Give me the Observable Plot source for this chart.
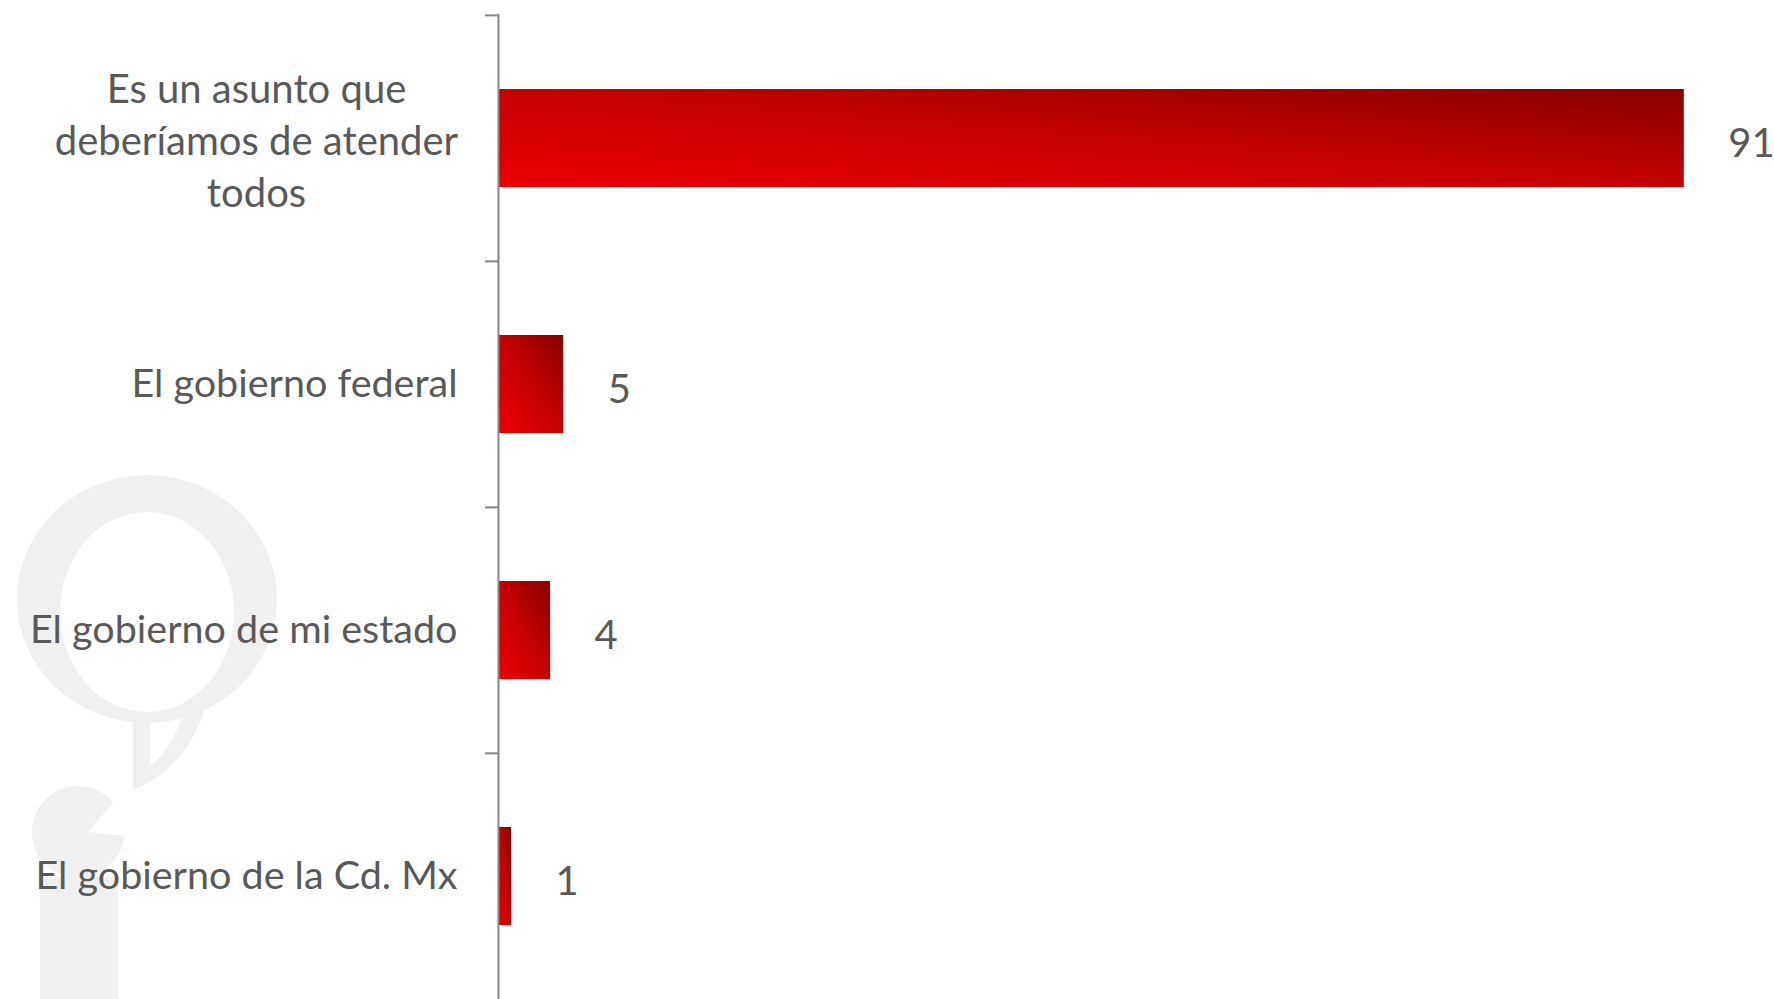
<!DOCTYPE html>
<html>
<head>
<meta charset="utf-8">
<script src="https://cdn.jsdelivr.net/npm/d3@7"></script>
<script src="https://cdn.jsdelivr.net/npm/@observablehq/plot@0.6"></script>
<style>
  html, body { margin: 0; padding: 0; background: #ffffff; }
  #chart svg { display: block; }
</style>
</head>
<body>
<div id="chart"></div>
<script>
// ---- Data ----
const categories = [
  "Es un asunto que\ndeberíamos de atender\ntodos",
  "El gobierno federal",
  "El gobierno de mi estado",
  "El gobierno de la Cd. Mx"
];
const values = [91, 5, 4, 1];

// ---- Layout ----
const W = 1774, H = 999;
const mL = 498, mT = 14, mB = 0, mR = 12;
const step = (H - mT - mB) / categories.length;
const textColor = "#595959";
const axisColor = "#868686";

const data = categories.map((c, i) => ({category: c, value: values[i], multi: c.includes("\n")}));

// gradient definition for bars
const gradientDefs = () => {
  const defs = d3.create("svg:defs");
  const g = defs.append("linearGradient")
    .attr("id", "barGrad")
    .attr("x1", 0).attr("y1", 1).attr("x2", 1).attr("y2", 0);
  g.append("stop").attr("offset", "0%").attr("stop-color", "#ec0000");
  g.append("stop").attr("offset", "50%").attr("stop-color", "#c60000");
  g.append("stop").attr("offset", "100%").attr("stop-color", "#880000");
  return defs.node();
};

// faint background logo (decorative watermark)
const watermark = () => {
  const g = d3.create("svg:g").attr("fill", "#f0f0f0");
  g.append("path")
    .attr("fill-rule", "evenodd")
    .attr("d", "M17,599 A130,124 0 1,0 277,599 A130,124 0 1,0 17,599 Z M60,612 A87,100 0 1,0 234,612 A87,100 0 1,0 60,612 Z");
  g.append("path")
    .attr("d", "M133,712 L133,790 C172,774 198,742 208,696 L186,700 C180,730 168,752 150,766 L150,712 Z");
  const cx = 78, cy = 832, r = 46;
  const a0 = -40 * Math.PI / 180, a1 = 5 * Math.PI / 180;
  const p0 = [cx + r * Math.cos(a1), cy + r * Math.sin(a1)];
  const p1 = [cx + r * Math.cos(a0), cy + r * Math.sin(a0)];
  g.append("path")
    .attr("d", `M${cx + 10},${cy} L${p0[0]},${p0[1]} A${r},${r} 0 1,1 ${p1[0]},${p1[1]} Z`);
  g.append("rect").attr("x", 40).attr("y", 877).attr("width", 78).attr("height", 122);
  return g.node();
};

const chart = Plot.plot({
  width: W,
  height: H,
  marginLeft: mL,
  marginTop: mT,
  marginBottom: mB,
  marginRight: mR,
  style: {fontFamily: "Lato, 'Open Sans', sans-serif", background: "#ffffff", overflow: "visible"},
  x: {domain: [0, 97], axis: null},
  y: {domain: categories, padding: 0, axis: null},
  marks: [
    watermark,
    gradientDefs,
    Plot.barX(data, {x: "value", y: "category", fill: "url(#barGrad)", insetTop: 74, insetBottom: 74}),
    Plot.ruleX([0], {stroke: axisColor, strokeWidth: 2}),
    Plot.axisY({tickSize: 13, tickFormat: () => "", label: null, dy: -step / 2, stroke: axisColor, strokeWidth: 2}),
    Plot.text(data.filter(d => !d.multi), {
      y: "category", text: "category", frameAnchor: "left", textAnchor: "end",
      dx: -41, fill: textColor, fontSize: 39.5
    }),
    Plot.text(data.filter(d => d.multi), {
      y: "category", text: "category", frameAnchor: "left", textAnchor: "middle",
      dx: -242, fill: textColor, fontSize: 40, lineHeight: 1.3
    }),
    Plot.text(data, {
      x: "value", y: "category", text: d => String(d.value), textAnchor: "start",
      dx: 44, dy: 6, fill: textColor, fontSize: 40
    })
  ]
});

document.getElementById("chart").appendChild(chart);
</script>
</body>
</html>
